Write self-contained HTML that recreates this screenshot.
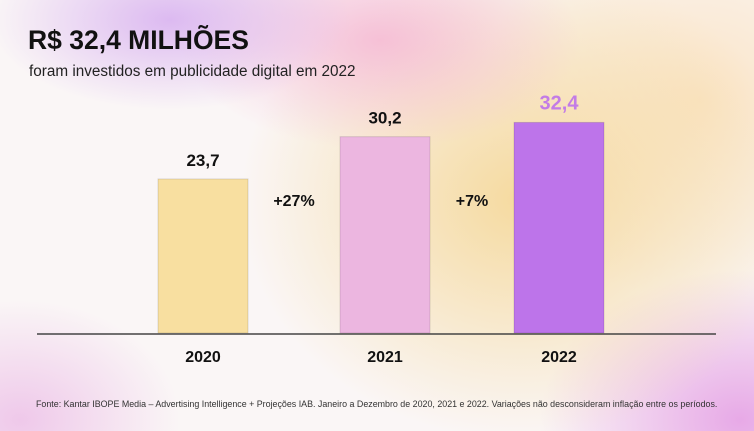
<!DOCTYPE html>
<html><head><meta charset="utf-8"><style>
html,body{margin:0;padding:0}
body{width:754px;height:431px;overflow:hidden;font-family:"Liberation Sans",sans-serif;position:relative;
background:
radial-gradient(ellipse 180px 90px at 170px 20px, rgba(215,175,240,0.85), transparent),
radial-gradient(ellipse 200px 110px at 380px 40px, rgba(245,180,210,0.8), transparent),
radial-gradient(ellipse 280px 240px at 520px 200px, rgba(245,215,150,0.9), transparent),
radial-gradient(ellipse 200px 150px at 740px 420px, rgba(230,165,230,0.95), transparent),
radial-gradient(ellipse 160px 120px at 20px 420px, rgba(235,185,230,0.75), transparent),
radial-gradient(ellipse 220px 200px at 700px 100px, rgba(250,225,190,0.85), transparent),
#faf6f6;}
</style></head><body>
<div style="position:absolute;left:28px;top:25px;font-size:26.5px;font-weight:bold;color:#111">R$ 32,4 MILHÕES</div>
<div style="position:absolute;left:29px;top:63px;font-size:15.3px;color:#222">foram investidos em publicidade digital em 2022</div>
<svg id="chart" width="754" height="431" style="position:absolute;left:0;top:0"></svg>
<div style="position:absolute;left:36px;top:399px;font-size:8.9px;color:#333;white-space:nowrap">Fonte: Kantar IBOPE Media – Advertising Intelligence + Projeções IAB. Janeiro a Dezembro de 2020, 2021 e 2022. Variações não desconsideram inflação entre os períodos.</div>
<script>
const categories=["2020","2021","2022"];
const values=[23.7,30.2,32.4];
const labels=["23,7","30,2","32,4"];
const growth=["+27%","+7%"];
const svg=document.getElementById('chart');
const NS="http://www.w3.org/2000/svg";
const base=333, scale=6.5;
const xs=[158,340,514], bw=90;
const fills=["#f8dfa0","#ecb6e0","#bd74ea"];
const y=v=>base-v*scale;
function mk(t,a){const e=document.createElementNS(NS,t);for(const k in a)e.setAttribute(k,a[k]);svg.appendChild(e);return e;}
categories.forEach((c,i)=>{
 const r=mk('rect',{x:xs[i],y:y(values[i]),width:bw,height:values[i]*scale,fill:fills[i],stroke:'rgba(0,0,0,0.12)','stroke-width':1});
 
 
 const t=mk('text',{x:xs[i]+bw/2,y:y(values[i])-13,'text-anchor':'middle','font-size':i==2?20:17,'font-weight':'bold',fill:i==2?'#c37ce6':'#111'});
 t.textContent=labels[i];
 
 
 const x=mk('text',{x:xs[i]+bw/2,y:362,'text-anchor':'middle','font-size':16,'font-weight':'bold',fill:'#111'});
 x.textContent=c;
 
 
});
growth.forEach((g,i)=>{
 const t=mk('text',{x:(xs[i]+bw+xs[i+1])/2,y:206,'text-anchor':'middle','font-size':16,'font-weight':'bold',fill:'#111'});
 t.textContent=g;
 
 
});
const ax=mk('line',{x1:37,x2:716,y1:base+1,y2:base+1,stroke:'#444','stroke-width':1.5});


</script>
</body></html>
